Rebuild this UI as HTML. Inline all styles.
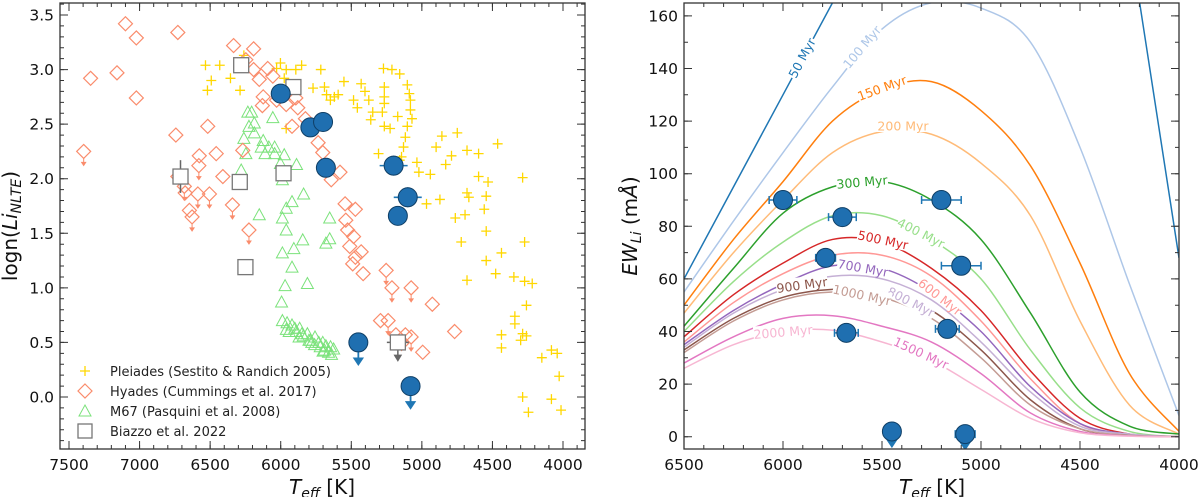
<!DOCTYPE html>
<html><head><meta charset="utf-8"><style>
html,body{margin:0;padding:0;background:#fff;}
svg{display:block;font-family:"DejaVu Sans","Liberation Sans",sans-serif;}
</style></head><body>
<svg id="fig" width="1200" height="497" viewBox="0 0 1200 497" xmlns="http://www.w3.org/2000/svg">
<g id="left"></g>
<g id="right"></g>
</svg>
<script>
// ---------- LEFT PANEL DATA ----------
const pleiadesT=[6533,6432,6492,6519,6356,6288,6261,6002,5961,6029,5975,5893,5852,5716,5771,5690,5675,5648,5620,5593,5552,5430,5484,5457,5403,5376,5348,5362,5272,5212,5157,5266,5266,5266,5280,5266,5225,5171,5103,5089,5081,5081,5070,5103,5117,5130,5144,5157,5961,5307,5035,5021,4940,4899,4858,4790,4831,4749,4680,4598,4598,4531,4463,4286,4967,4872,4763,4694,4680,4667,4544,4558,4544,4544,4721,4436,4477,4680,4348,4272,4272,4218,4259,4341,4341,4286,4300,4259,4436,4436,4150,4082,4041,4027,4286,4082,4245,4014];
const pleiadesV=[3.04,3.04,2.90,2.81,2.92,2.81,3.13,3.06,3.00,3.01,2.92,3.00,3.04,3.00,2.83,2.84,2.77,2.72,2.75,2.77,2.89,2.87,2.72,2.65,2.80,2.72,2.61,2.54,3.01,3.00,2.96,2.84,2.75,2.69,2.61,2.48,2.46,2.57,2.86,2.78,2.72,2.63,2.55,2.48,2.38,2.29,2.20,2.17,2.46,2.23,2.15,2.06,2.04,2.29,2.39,2.21,2.13,2.42,2.26,2.23,2.02,1.97,2.32,2.01,1.77,1.81,1.64,1.67,1.87,1.83,1.84,1.72,1.52,1.25,1.42,1.32,1.13,1.07,1.10,1.42,1.06,1.04,0.84,0.74,0.67,0.58,0.52,0.56,0.57,0.45,0.36,0.43,0.40,0.19,0.00,-0.02,-0.14,-0.12];
const hyadesT=[7100,7023,7160,7347,7023,6729,7396,6743,6517,6577,6580,6457,6410,6729,6683,6677,6587,6505,6647,6628,6342,6225,6269,6334,6192,6247,6192,6092,6152,6056,6124,6130,6029,5961,5879,5893,5920,5825,5735,5702,5580,5642,5544,5471,5539,5526,5484,5511,5430,5471,5490,5416,5253,5212,5076,4926,5293,5239,5184,5144,5076,4994,4768,5117];
const hyadesV=[3.42,3.29,2.97,2.92,2.74,3.34,2.25,2.40,2.48,2.21,2.12,2.23,2.02,2.02,1.93,1.87,1.86,1.86,1.71,1.65,1.76,1.53,2.26,3.22,3.19,3.09,3.00,3.01,2.91,2.94,2.75,2.67,2.72,2.68,2.65,2.74,2.48,2.55,2.33,2.24,2.06,1.99,1.77,1.72,1.62,1.53,1.47,1.38,1.33,1.28,1.22,1.13,1.16,1.00,1.00,0.85,0.70,0.70,0.57,0.49,0.55,0.41,0.60,0.57];
const hyadesUpper=[0,0,0,0,0,0,1,0,0,0,1,0,0,0,1,0,1,1,0,1,1,1,0,0,0,0,0,0,0,0,0,0,0,0,0,0,0,0,0,0,0,0,0,0,0,0,0,0,0,0,0,0,1,1,1,0,0,1,0,0,1,0,0,0];
const m67T=[6233,6206,6056,6225,6187,6187,6261,6124,6138,6084,6043,6111,6043,5975,6002,6247,6280,5888,5988,5838,5920,5961,5988,6152,5961,5907,5988,5920,5969,5811,5844,5994,5653,5653,5680,5988,5960,5920,5890,5866,5840,5811,5790,5757,5730,5702,5680,5647,5625,5661,5955,5900,5850,5800,5760,5720,5690,5640,5940,5870,5780,5700];
const m67V=[2.61,2.61,2.56,2.48,2.51,2.42,2.37,2.35,2.29,2.29,2.29,2.23,2.23,2.22,2.14,2.23,2.08,2.13,1.99,1.86,1.79,1.73,1.64,1.67,1.53,1.36,1.32,1.19,1.02,1.04,1.44,0.87,1.64,1.45,1.41,0.70,0.62,0.66,0.60,0.63,0.56,0.58,0.52,0.55,0.50,0.50,0.47,0.46,0.44,0.41,0.68,0.63,0.58,0.52,0.48,0.46,0.43,0.39,0.60,0.55,0.50,0.42];
const biazzoT=[6280,5910,6710,6290,5980,6250,5170];
const biazzoV=[3.04,2.84,2.02,1.97,2.05,1.19,0.50];
const biazzoErr=[0.03,0.03,0.15,0.03,0.06,0.03,0];
const biazzoUpper=[0,0,0,0,0,0,1];
const starsT=[6000,5790,5700,5680,5200,5100,5170,5450,5080];
const starsLogN=[2.78,2.47,2.52,2.10,2.12,1.83,1.66,0.50,0.10];
const starsUpperL=[0,0,0,0,0,0,0,1,1];
const leftXTicks=[7500,7000,6500,6000,5500,5000,4500,4000];
const leftYTicks=[0.0,0.5,1.0,1.5,2.0,2.5,3.0,3.5];
const legendLabels=["Pleiades (Sestito & Randich 2005)","Hyades (Cummings et al. 2017)","M67 (Pasquini et al. 2008)","Biazzo et al. 2022"];

// ---------- RIGHT PANEL DATA ----------
const curveT=[6500,6250,6000,5750,5500,5250,5000,4750,4500,4250,4000];
const ages=["50 Myr","100 Myr","150 Myr","200 Myr","300 Myr","400 Myr","500 Myr","600 Myr","700 Myr","800 Myr","900 Myr","1000 Myr","1500 Myr","2000 Myr"];
const ew50=[60,95,130,165,200,240,240,240,240,190,68];
const ew100=[55,82,108,133,155,165,163,150,110,58,8];
const ew150=[50,75,97,120,132,135,124,103,66,24,2];
const ew200=[47,70,90,108,116,115,104,84,44,12,1];
const ew300=[42,64,85,95,97,90,75,47,17,4,1];
const ew400=[40,59,74,84,84,75,60,33,11,2,0];
const ew500=[38,54,66,75,74,64,48,25,7,1,0];
const ew600=[36,51,62,69,69,61,44,22,5,1,0];
const ew700=[35,48,58,65,64,55,40,19,5,1,0];
const ew800=[34,47,56,61,60,52,36,17,4,1,0];
const ew900=[33,45,53,56,55,48,33,14,3,0.5,0];
const ew1000=[32,44,52,55,53,45,30,12,3,0.5,0];
const ew1500=[28,38,45,46,42,36,24,9,2,0.3,0];
const ew2000=[26,35,40,40.5,36,29,18,7,1.5,0.2,0];
const curveColors=["#1f77b4","#aec7e8","#ff7f0e","#ffbb78","#2ca02c","#98df8a","#d62728","#ff9896","#9467bd","#c5b0d5","#8c564b","#c49c94","#e377c2","#f7b6d2"];
const starsT2=[6000,5700,5785,5680,5200,5100,5170,5450,5080];
const starsEW=[90,83.5,68,39.5,90,65,41,2,1];
const starsTerr=[70,70,50,60,100,100,60,0,50];
const starsUpperR=[0,0,0,0,0,0,0,1,1];
const rightXTicks=[6500,6000,5500,5000,4500,4000];
const rightYTicks=[0,20,40,60,80,100,120,140,160];
const labelPos=[[802,58,-62],[862,47,-50],[882,88,-20],[903,126,0],[862,182,-5],[921,233,27],[883,240,12],[940,297,38],[863,268,10],[911,302,27],[802,285,-8],[862,295,12],[921,353,25],[783,332,-5]];

const NS="http://www.w3.org/2000/svg";
function mk(parent,tag,attrs,text){const e=document.createElementNS(NS,tag);for(const k in attrs)e.setAttribute(k,attrs[k]);if(text!==undefined)e.textContent=text;parent.appendChild(e);return e;}

// ---------- LEFT ----------
const L=document.getElementById('left');
const lx=T=>69+(7500-T)/3500*494;
const ly=v=>397-v*109.14;
const LB={x0:60,x1:585,y0:3,y1:449};
mk(L,'defs',{}).innerHTML='<clipPath id="clipL"><rect x="60" y="3" width="525" height="446"/></clipPath><clipPath id="clipR"><rect x="684" y="3" width="495" height="446"/></clipPath>';
const LP=mk(L,'g',{'clip-path':'url(#clipL)'});


pleiadesT.forEach((T,i)=>{const x=lx(T),y=ly(pleiadesV[i]);
 const p=mk(LP,'path',{d:`M${x-5},${y}H${x+5}M${x},${y-5}V${y+5}`,stroke:'#ffd700','stroke-width':1.3,fill:'none'});
 
 });
m67T.forEach((T,i)=>{const x=lx(T),y=ly(m67V[i]);
 const p=mk(LP,'path',{d:`M${x},${y-6}L${x+6},${y+5}L${x-6},${y+5}Z`,stroke:'#7be27b','stroke-width':1,fill:'none'});
 
 });
hyadesT.forEach((T,i)=>{const x=lx(T),y=ly(hyadesV[i]);
 const g=mk(LP,'g',{});
 
 
 mk(g,'path',{d:`M${x},${y-7}L${x+7},${y}L${x},${y+7}L${x-7},${y}Z`,stroke:'#fa8c6c','stroke-width':1.2,fill:'none'});
 if(hyadesUpper[i]) mk(g,'path',{d:`M${x},${y+7}V${y+13}M${x-2},${y+11}L${x},${y+14}L${x+2},${y+11}Z`,stroke:'#fa8c6c','stroke-width':1,fill:'#fa8c6c'});});
biazzoT.forEach((T,i)=>{const x=lx(T),y=ly(biazzoV[i]);
 const g=mk(LP,'g',{});
 
 
 if(biazzoErr[i]>0.05) mk(g,'path',{d:`M${x},${ly(biazzoV[i]+biazzoErr[i])}V${ly(biazzoV[i]-biazzoErr[i])}`,stroke:'#666','stroke-width':1.5});
 if(biazzoUpper[i]){mk(g,'path',{d:`M${x-11},${y}H${x+11}`,stroke:'#666','stroke-width':1.5});mk(g,'path',{d:`M${x},${y}V${y+16}M${x-3},${y+13}L${x},${y+18}L${x+3},${y+13}Z`,stroke:'#666','stroke-width':1.5,fill:'#666'});}
 mk(g,'rect',{x:x-7.5,y:y-7.5,width:15,height:15,stroke:'#777','stroke-width':1.3,fill:'#fff'});});
starsT.forEach((T,i)=>{const x=lx(T),y=ly(starsLogN[i]);
 const g=mk(LP,'g',{});
 
 
 if(starsUpperL[i]) mk(g,'path',{d:`M${x},${y}V${y+20}M${x-4},${y+16}L${x},${y+22}L${x+4},${y+16}Z`,stroke:'#1f77b4','stroke-width':1.8,fill:'#1f77b4'});
 if(T===5200||T===5100) mk(g,'path',{d:`M${x-14},${y}H${x+14}M${x},${y-10}V${y+10}`,stroke:'#1f77b4','stroke-width':1.6});
 mk(g,'circle',{cx:x,cy:y,r:9.5,fill:'#1f6fb0',stroke:'#0f3f66','stroke-width':1});});

function frame(G,B,name){const r=mk(G,'rect',{x:B.x0,y:B.y0,width:B.x1-B.x0,height:B.y1-B.y0,fill:'none',stroke:'#333','stroke-width':1.3});}
function ticksX(G,B,vals,fx,len){vals.forEach(v=>{const x=fx(v);if(x<B.x0-0.5||x>B.x1+0.5)return;mk(G,'path',{d:`M${x},${B.y1}V${B.y1-len}M${x},${B.y0}V${B.y0+len}`,stroke:'#333','stroke-width':1});});}
function ticksY(G,B,vals,fy,len){vals.forEach(v=>{const y=fy(v);if(y<B.y0-0.5||y>B.y1+0.5)return;mk(G,'path',{d:`M${B.x0},${y}H${B.x0+len}M${B.x1},${y}H${B.x1-len}`,stroke:'#333','stroke-width':1});});}
frame(L,LB,'left-frame');
const lminX=[];for(let t=3900;t<=7500;t+=100)lminX.push(t);
const lminY=[];for(let v=-4;v<=36;v++)lminY.push(v/10);
ticksX(L,LB,lminX,lx,4);ticksY(L,LB,lminY,ly,4);
ticksX(L,LB,leftXTicks,lx,8);ticksY(L,LB,leftYTicks,ly,8);
leftXTicks.forEach(t=>{const e=mk(L,'text',{x:lx(t),y:470,'text-anchor':'middle','font-size':15.5,fill:'#111'},String(t));});
leftYTicks.forEach(v=>{const e=mk(L,'text',{x:54,y:ly(v)+5.5,'text-anchor':'end','font-size':15.5,fill:'#111'},v.toFixed(1));});
{const e=mk(L,'text',{x:322,y:494,'text-anchor':'middle','font-size':20,fill:'#111'});e.innerHTML='<tspan font-style="italic">T</tspan><tspan font-style="italic" font-size="14" dy="4">eff</tspan><tspan dy="-4"> [K]</tspan>';}
{const e=mk(L,'text',{x:0,y:0,'text-anchor':'middle','font-size':20,fill:'#111',transform:'translate(17,226) rotate(-90)'});e.innerHTML='logn(<tspan font-style="italic">Li</tspan><tspan font-style="italic" font-size="14" dy="4">NLTE</tspan><tspan dy="-4">)</tspan>';}
const lg=mk(L,'g',{});


legendLabels.forEach((s,i)=>{const y=371+i*20,x=85;
 const g=mk(lg,'g',{});
 
 
 if(i==0)mk(g,'path',{d:`M${x-5},${y}H${x+5}M${x},${y-5}V${y+5}`,stroke:'#ffd700','stroke-width':1.3});
 if(i==1)mk(g,'path',{d:`M${x},${y-7}L${x+7},${y}L${x},${y+7}L${x-7},${y}Z`,stroke:'#fa8c6c','stroke-width':1.2,fill:'none'});
 if(i==2)mk(g,'path',{d:`M${x},${y-6}L${x+6},${y+5}L${x-6},${y+5}Z`,stroke:'#7be27b','stroke-width':1,fill:'none'});
 if(i==3)mk(g,'rect',{x:x-7,y:y-7,width:14,height:14,stroke:'#777','stroke-width':1.3,fill:'#fff'});
 mk(g,'text',{x:110,y:y+5,'font-size':13,fill:'#222'},s);});

// ---------- RIGHT ----------
const R=document.getElementById('right');
const rx=T=>684+(6500-T)/2500*495;
const ry=v=>436.7-v*2.63;
const RB={x0:684,x1:1179,y0:3,y1:449};
const RP=mk(R,'g',{'clip-path':'url(#clipR)'});


const allCurves=[ew50,ew100,ew150,ew200,ew300,ew400,ew500,ew600,ew700,ew800,ew900,ew1000,ew1500,ew2000];
function spline(xs,ys){let d=`M${xs[0]},${ys[0]}`;for(let i=0;i<xs.length-1;i++){const x0=xs[Math.max(0,i-1)],y0=ys[Math.max(0,i-1)],x1=xs[i],y1=ys[i],x2=xs[i+1],y2=ys[i+1],x3=xs[Math.min(xs.length-1,i+2)],y3=ys[Math.min(xs.length-1,i+2)];d+=`C${x1+(x2-x0)/6},${y1+(y2-y0)/6} ${x2-(x3-x1)/6},${y2-(y3-y1)/6} ${x2},${y2}`;}return d;}
allCurves.forEach((arr,k)=>{
 let d;
 if(k===0){
   d=`M${rx(curveT[0])},${ry(arr[0])}L${rx(curveT[2])},${ry(arr[2])}L${rx(curveT[3])},${ry(arr[3])}M${rx(curveT[9])},${ry(arr[9])}L${rx(curveT[10])},${ry(arr[10])}`;
 } else d=spline(curveT.map(rx),arr.map(ry));
 const p=mk(RP,'path',{d:d,stroke:curveColors[k],'stroke-width':1.5,fill:'none'});
 
 
});
ages.forEach((a,k)=>{const [x,y,r]=labelPos[k];
 const g=mk(RP,'g',{transform:`translate(${x},${y}) rotate(${r})`});
 
 
 const w=a.length*7.4;
 mk(g,'rect',{x:-w/2,y:-8,width:w,height:14,fill:'#fff'});
 mk(g,'text',{x:0,y:4.5,'text-anchor':'middle','font-size':12.5,fill:curveColors[k]},a);});
starsT2.forEach((T,i)=>{const x=rx(T),y=ry(starsEW[i]);
 const g=mk(RP,'g',{});
 
 
 const e=starsTerr[i]/2500*495;
 if(e>0) mk(g,'path',{d:`M${x-e},${y}H${x+e}M${x-e},${y-4}V${y+4}M${x+e},${y-4}V${y+4}`,stroke:'#1f77b4','stroke-width':1.5});
 if(starsUpperR[i]) mk(g,'path',{d:`M${x},${y}V${y+12}M${x-4},${y+9}L${x},${y+15}L${x+4},${y+9}Z`,stroke:'#1f77b4','stroke-width':1.8,fill:'#1f77b4'});
 mk(g,'circle',{cx:x,cy:y,r:9.5,fill:'#1f6fb0',stroke:'#0f3f66','stroke-width':1});});
frame(R,RB,'right-frame');
const rminX=[];for(let t=4000;t<=6500;t+=100)rminX.push(t);
const rminY=[];for(let v=0;v<=160;v+=10)rminY.push(v);
ticksX(R,RB,rminX,rx,4);ticksY(R,RB,rminY,ry,4);
ticksX(R,RB,rightXTicks,rx,8);ticksY(R,RB,rightYTicks,ry,8);
rightXTicks.forEach(t=>{const e=mk(R,'text',{x:rx(t),y:470,'text-anchor':'middle','font-size':15.5,fill:'#111'},String(t));});
rightYTicks.forEach(v=>{const e=mk(R,'text',{x:678,y:ry(v)+5.5,'text-anchor':'end','font-size':15.5,fill:'#111'},String(v));});
{const e=mk(R,'text',{x:932,y:494,'text-anchor':'middle','font-size':20,fill:'#111'});e.innerHTML='<tspan font-style="italic">T</tspan><tspan font-style="italic" font-size="14" dy="4">eff</tspan><tspan dy="-4"> [K]</tspan>';}
{const e=mk(R,'text',{x:0,y:0,'text-anchor':'middle','font-size':20,fill:'#111',transform:'translate(637,226) rotate(-90)'});e.innerHTML='<tspan font-style="italic">EW</tspan><tspan font-style="italic" font-size="14" dy="4">Li</tspan><tspan dy="-4"> (m</tspan><tspan font-style="italic">Å</tspan>)';}
</script>
</body></html>
